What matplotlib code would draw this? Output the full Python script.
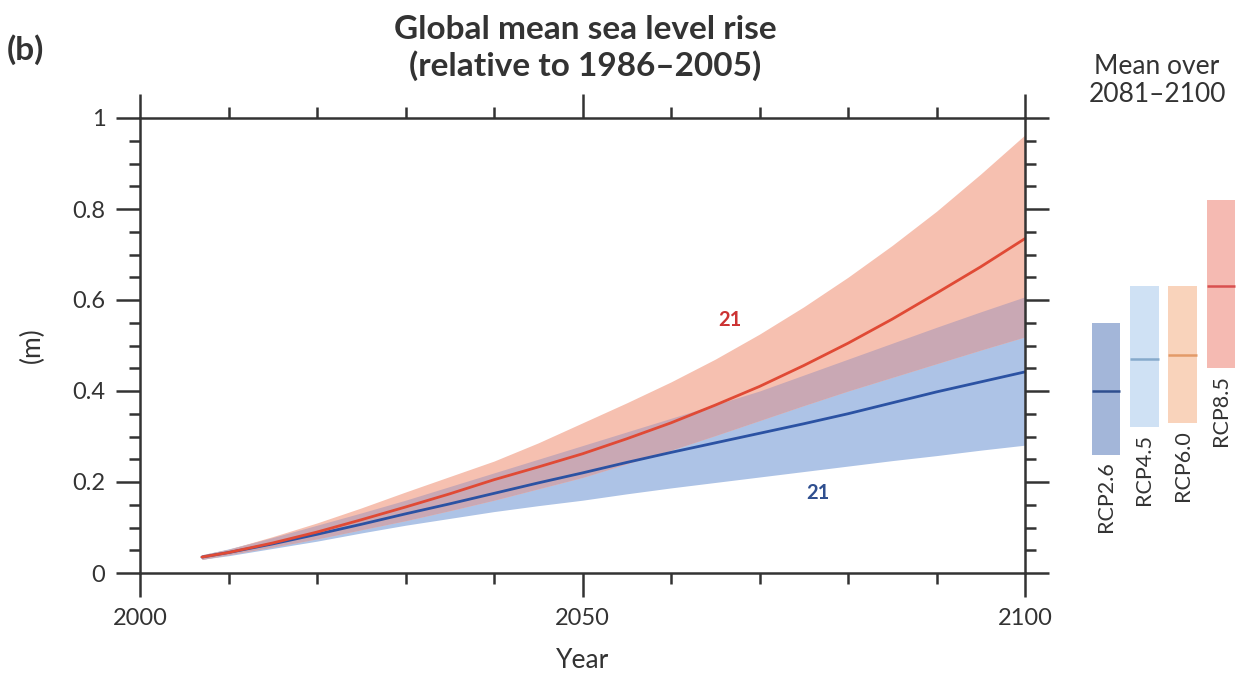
import numpy as np
import matplotlib
matplotlib.use("Agg")
import matplotlib.pyplot as plt
from matplotlib.ticker import MultipleLocator, FixedLocator, FuncFormatter

plt.rcParams['font.family'] = ['Lato', 'DejaVu Sans']

# ---------------- data ----------------
years = [2007, 2010, 2015, 2020, 2025, 2030, 2035, 2040, 2045, 2050,
         2055, 2060, 2065, 2070, 2075, 2080, 2085, 2090, 2095, 2100]

rcp26_mean = [0.035, 0.045, 0.064, 0.085, 0.107, 0.130, 0.152, 0.175, 0.198, 0.220,
              0.243, 0.265, 0.286, 0.307, 0.328, 0.350, 0.374, 0.398, 0.420, 0.442]
rcp26_low = [0.030, 0.038, 0.054, 0.070, 0.088, 0.105, 0.120, 0.135, 0.148, 0.160,
             0.174, 0.187, 0.199, 0.211, 0.223, 0.235, 0.247, 0.258, 0.270, 0.281]
rcp26_high = [0.040, 0.053, 0.078, 0.105, 0.132, 0.160, 0.190, 0.220, 0.250, 0.280,
              0.310, 0.340, 0.370, 0.400, 0.435, 0.470, 0.505, 0.540, 0.574, 0.607]

rcp85_mean = [0.035, 0.045, 0.066, 0.090, 0.117, 0.145, 0.174, 0.205, 0.233, 0.262,
              0.295, 0.330, 0.369, 0.410, 0.456, 0.505, 0.558, 0.615, 0.673, 0.735]
rcp85_low = [0.030, 0.040, 0.057, 0.075, 0.095, 0.115, 0.137, 0.160, 0.185, 0.210,
             0.240, 0.270, 0.302, 0.335, 0.368, 0.400, 0.430, 0.460, 0.490, 0.519]
rcp85_high = [0.040, 0.052, 0.080, 0.110, 0.143, 0.178, 0.212, 0.246, 0.286, 0.330,
              0.374, 0.420, 0.470, 0.525, 0.585, 0.650, 0.720, 0.795, 0.877, 0.963]

scenarios = ['RCP2.6', 'RCP4.5', 'RCP6.0', 'RCP8.5']
mean_2081_2100 = [0.40, 0.47, 0.48, 0.63]
low_2081_2100 = [0.26, 0.32, 0.33, 0.45]
high_2081_2100 = [0.55, 0.63, 0.63, 0.82]

model_count_label = '21'

# ---------------- styles ----------------
W, H = 1237, 681
blue_band = '#adc3e6'
red_band = '#f6c0b0'
overlap_band = '#c9a8b4'
blue_line = '#2b52a3'
red_line = '#e04a35'
bar_colors = ['#a3b6d9', '#cfe1f4', '#f9d3bb', '#f5bab2']
bar_line_colors = ['#2f4f8f', '#86aacb', '#e39a68', '#d9504f']
axis_color = '#333333'
text_color = '#333333'

fig = plt.figure(figsize=(W / 100, H / 100), dpi=100)
ax = fig.add_axes([140 / W, 108 / H, 885 / W, 455 / H])

yr = np.array(years)
b_lo, b_hi = np.array(rcp26_low), np.array(rcp26_high)
r_lo, r_hi = np.array(rcp85_low), np.array(rcp85_high)

ax.fill_between(yr, b_lo, b_hi, color=blue_band, lw=0)
ax.fill_between(yr, r_lo, r_hi, color=red_band, lw=0)
ov_lo = np.maximum(b_lo, r_lo)
ov_hi = np.minimum(b_hi, r_hi)
ax.fill_between(yr, ov_lo, ov_hi, where=ov_hi > ov_lo, color=overlap_band, lw=0,
                interpolate=True)

ax.plot(yr, rcp26_mean, color=blue_line, lw=2.0, solid_capstyle='round')
ax.plot(yr, rcp85_mean, color=red_line, lw=2.0, solid_capstyle='round')

ax.text(2066.7, 0.556, model_count_label, color='#cc3333', fontsize=14.5,
        fontweight='bold', ha='center', va='center')
ax.text(2076.6, 0.176, model_count_label, color='#2f4f8f', fontsize=14.5,
        fontweight='bold', ha='center', va='center')

ax.set_xlim(2000, 2100)
ax.set_ylim(0, 1)
ax.xaxis.set_major_locator(FixedLocator([2000, 2050, 2100]))
ax.xaxis.set_minor_locator(MultipleLocator(10))
ax.yaxis.set_major_locator(MultipleLocator(0.2))
ax.yaxis.set_minor_locator(MultipleLocator(0.05))
ax.yaxis.set_major_formatter(FuncFormatter(lambda v, p: f'{v:g}'))
ax.xaxis.set_major_formatter(FuncFormatter(lambda v, p: f'{v:.0f}'))

for s in ax.spines.values():
    s.set_color(axis_color)
    s.set_linewidth(1.8)
ax.tick_params(which='both', direction='out', top=True, right=True,
               color=axis_color, width=1.8, labelsize=17, labelcolor=text_color)
ax.tick_params(which='major', length=17, pad=8)
ax.tick_params(which='minor', length=8)

ax.set_xlabel('Year', fontsize=19, color=text_color)
ax.set_ylabel('(m)', fontsize=19, color=text_color)
ax.xaxis.set_label_coords(0.5, -0.165)
ax.yaxis.set_label_coords(-0.107, 0.5)

fig.text(585 / W, 1 - 48 / H, 'Global mean sea level rise\n(relative to 1986–2005)',
         ha='center', va='center', fontsize=24, fontweight='bold', color=text_color,
         linespacing=1.25)
fig.text(25 / W, 1 - 50 / H, '(b)', ha='center', va='center', fontsize=24,
         fontweight='bold', color=text_color)
fig.text(1157 / W, 1 - 80 / H, 'Mean over\n2081–2100', ha='center', va='center',
         fontsize=19, color=text_color, linespacing=1.15)

# ---------------- right-hand bars ----------------
bx = fig.add_axes([1080 / W, 108 / H, 157 / W, 455 / H])
bx.set_xlim(-0.678, 3.417)
bx.set_ylim(0, 1)
bx.axis('off')
pos = np.arange(len(scenarios))
bx.bar(pos, np.array(high_2081_2100) - np.array(low_2081_2100), bottom=low_2081_2100,
       width=0.74, color=bar_colors, lw=0)
bx.hlines(mean_2081_2100, pos - 0.37, pos + 0.37, colors=bar_line_colors, lw=1.8)
for p, lo, name in zip(pos, low_2081_2100, scenarios):
    bx.annotate(name, (p, lo), xytext=(0, -5), textcoords='offset points',
                rotation=90, ha='center', va='top', fontsize=15.5, color=text_color)

fig.savefig('out.png', dpi=100, facecolor='white')
